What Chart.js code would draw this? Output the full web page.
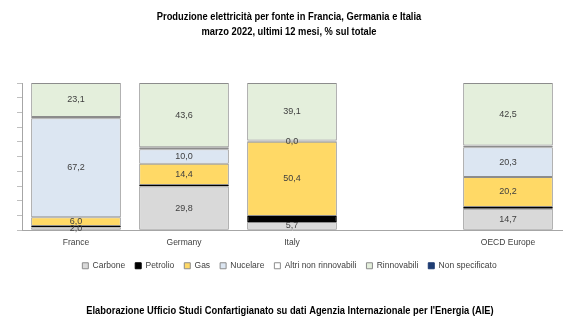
<!DOCTYPE html>
<html lang="it">
<head>
<meta charset="UTF-8">
<title>Produzione elettricità per fonte</title>
<style>
  html, body { margin: 0; padding: 0; background: #fff; }
  #wrap { width: 580px; height: 326px; }
</style>
</head>
<body>
<div id="wrap"><canvas id="myChart"></canvas></div>

<script src="https://cdn.jsdelivr.net/npm/chart.js"></script>
<script>
  // paesi (la colonna vuota separa l'aggregato OCSE)
  const paesi = ['France', 'Germany', 'Italy', '', 'OECD Europe'];

  // quote % per fonte, marzo 2022 ultimi 12 mesi
  const carbone     = [2.0, 29.8, 5.7, null, 14.7];
  const petrolio    = [0.9, 0.9, 4.0, null, 1.2];
  const gas         = [6.0, 14.4, 50.4, null, 20.2];
  const nucleare    = [67.2, 10.0, 0.0, null, 20.3];
  const altriNonRin = [0.8, 1.3, 0.8, null, 1.1];
  const rinnovabili = [23.1, 43.6, 39.1, null, 42.5];
  const nonSpec     = [0.0, 0.0, 0.0, null, 0.0];

  const titolo = ['Produzione elettricità per fonte in Francia, Germania e Italia',
                  'marzo 2022, ultimi 12 mesi, % sul totale'];
  const fonte = "Elaborazione Ufficio Studi Confartigianato su dati Agenzia Internazionale per l'Energia (AIE)";

  const base = '"Liberation Sans", Arial, sans-serif';

  // serie con etichetta del valore
  const conEtichetta = ['Carbone', 'Gas', 'Nucelare', 'Rinnovabili'];

  const etichette = {
    id: 'etichette',
    afterDatasetsDraw(chart) {
      const ctx = chart.ctx;
      ctx.save();
      ctx.font = '9px ' + base;
      ctx.fillStyle = '#404040';
      ctx.textAlign = 'center';
      ctx.textBaseline = 'middle';
      chart.data.datasets.forEach((ds, i) => {
        if (!conEtichetta.includes(ds.label)) return;
        chart.getDatasetMeta(i).data.forEach((bar, j) => {
          const v = ds.data[j];
          if (v === null) return;
          const y = (bar.y + bar.base) / 2;
          ctx.fillText(v.toFixed(1).replace('.', ','), bar.x, y);
        });
      });
      ctx.restore();
    }
  };

  // titolo e fonte in grassetto stretto (compresso in orizzontale)
  function testoStretto(ctx, testo, x, y) {
    ctx.save();
    ctx.translate(x, y);
    ctx.scale(0.85, 1);
    ctx.fillText(testo, 0, 0);
    ctx.restore();
  }

  const testi = {
    id: 'testi',
    afterDraw(chart) {
      const ctx = chart.ctx;
      ctx.save();
      ctx.fillStyle = '#000';
      ctx.textAlign = 'center';
      ctx.textBaseline = 'middle';
      ctx.font = 'bold 11px ' + base;
      testoStretto(ctx, titolo[0], 289, 17);
      testoStretto(ctx, titolo[1], 289, 32);
      testoStretto(ctx, fonte, 290, 311);
      ctx.restore();
    }
  };

  const bordo = '#8c8c8c';
  function serie(label, data, colore, linea) {
    return {
      label: label,
      data: data,
      backgroundColor: colore,
      borderColor: linea || bordo,
      borderWidth: 1,
      borderSkipped: false
    };
  }

  const ctx = document.getElementById('myChart');

  new Chart(ctx, {
    type: 'bar',
    data: {
      labels: paesi,
      datasets: [
        serie('Carbone', carbone, '#d9d9d9'),
        serie('Petrolio', petrolio, '#000000', '#000000'),
        serie('Gas', gas, '#ffd966'),
        serie('Nucelare', nucleare, '#dce6f2'),
        serie('Altri non rinnovabili', altriNonRin, '#ffffff'),
        serie('Rinnovabili', rinnovabili, '#e4efdc'),
        serie('Non specificato', nonSpec, '#1f3d73', '#1f3d73')
      ]
    },
    options: {
      responsive: true,
      maintainAspectRatio: false,
      animation: false,
      categoryPercentage: 1.0,
      barPercentage: 0.83,
      layout: {
        padding: { top: 83, left: 17, right: 18, bottom: 46 }
      },
      scales: {
        x: {
          stacked: true,
          grid: { display: false },
          border: { display: true, color: '#a6a6a6' },
          ticks: { color: '#404040', font: { size: 8.5, family: base, lineHeight: 2 }, padding: -4 }
        },
        y: {
          stacked: true,
          min: 0,
          max: 100,
          grid: { drawOnChartArea: false, drawTicks: true, tickLength: 5, color: '#bfbfbf' },
          border: { display: true, color: '#a6a6a6' },
          ticks: { display: false, stepSize: 10 }
        }
      },
      plugins: {
        legend: {
          position: 'bottom',
          // titolo vuoto: solo spazio sopra le voci
          title: { display: true, text: '', padding: { top: 3, bottom: 0 }, font: { size: 1 } },
          labels: {
            boxWidth: 6,
            boxHeight: 6,
            padding: 10,
            color: '#404040',
            font: { size: 8.5, family: base }
          }
        },
        tooltip: { enabled: false }
      }
    },
    plugins: [etichette, testi]
  });
</script>
</body>
</html>
